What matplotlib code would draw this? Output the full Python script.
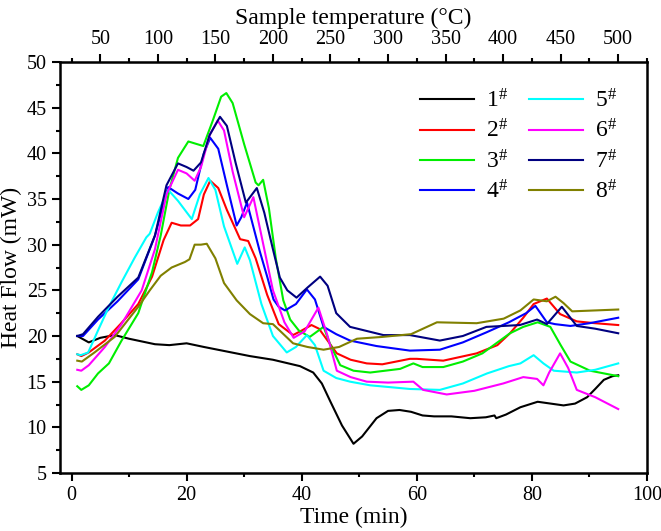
import numpy as np
import matplotlib.pyplot as plt
from matplotlib.ticker import MultipleLocator

plt.rcParams['font.family'] = ['Liberation Serif', 'DejaVu Serif']
plt.rcParams['mathtext.fontset'] = 'custom'
plt.rcParams['mathtext.rm'] = 'Liberation Serif'
plt.rcParams['mathtext.it'] = 'Liberation Serif:italic'

# heat flow curves (time in min, heat flow in mW)
t1 = [1, 3, 5, 7.5, 10, 14.5, 17, 20, 23, 27, 31, 35, 39.7, 42, 43.5, 45, 47, 49, 50.5, 53, 55, 57, 59, 61, 63, 66, 69.3, 72, 73.5, 73.8, 75.5, 78, 81, 85.5, 87.5, 89.6, 91, 92.5, 94, 95]
v1 = [20.0, 19.3, 19.8, 20.1, 19.7, 19.1, 19.0, 19.2, 18.8, 18.3, 17.8, 17.4, 16.7, 16.0, 14.8, 12.8, 10.2, 8.2, 9.0, 11.0, 11.8, 11.9, 11.7, 11.3, 11.2, 11.2, 11.0, 11.1, 11.3, 11.0, 11.4, 12.2, 12.8, 12.4, 12.6, 13.3, 14.2, 15.2, 15.6, 15.7]

t2 = [1, 1.7, 3, 5.8, 8.5, 11.6, 14, 16, 17.4, 19, 20.6, 22, 23, 24.1, 25.5, 27, 29.3, 30.7, 32, 34, 36, 38.5, 40, 41.7, 43, 46.1, 48.5, 51.3, 54, 58.8, 60, 64.6, 70.4, 74, 76.2, 78.5, 80.3, 82.6, 84.9, 87.8, 91, 95]
v2 = [18.0, 17.8, 18.2, 19.5, 21.3, 23.5, 26.5, 30.5, 32.4, 32.1, 32.1, 32.8, 35.5, 37.0, 36.2, 33.8, 30.6, 30.4, 28.5, 24.5, 21.3, 20.1, 20.6, 21.2, 20.8, 18.1, 17.4, 17.0, 16.9, 17.5, 17.5, 17.3, 18.1, 19.0, 20.3, 22.0, 23.5, 24.1, 22.4, 21.6, 21.4, 21.2]

t3 = [1, 1.7, 3, 4.6, 6.5, 8.7, 11.6, 14, 15.5, 17, 18.5, 20.3, 22.9, 24.5, 26, 26.9, 28, 30, 32, 32.5, 33.3, 34.3, 35.5, 36.8, 38, 39.5, 41.4, 43.8, 45, 46.7, 49, 51.9, 57.1, 59.4, 61, 64.6, 68, 71.4, 76.2, 78.5, 81, 83.2, 85, 86.7, 90.1, 95]
v3 = [14.5, 14.1, 14.6, 15.9, 17.0, 19.5, 22.5, 27.0, 31.0, 36.0, 39.5, 41.3, 40.8, 43.5, 46.2, 46.6, 45.5, 41.0, 36.8, 36.5, 37.1, 34.0, 28.5, 23.9, 21.8, 20.6, 19.9, 21.0, 19.0, 16.8, 16.2, 16.0, 16.4, 17.0, 16.6, 16.6, 17.2, 18.1, 20.3, 21.0, 21.5, 21.0, 19.0, 17.2, 16.2, 15.6]

t4 = [1, 2, 4.6, 8, 11.6, 14.5, 16.8, 18.5, 20.3, 21.5, 23, 24.1, 25.5, 27, 28.7, 29.5, 30.5, 32.7, 34, 35.1, 36, 37.1, 39, 40.9, 42.3, 43.8, 46, 48.4, 53, 58.8, 64, 68, 72.1, 76, 79, 80.6, 82.6, 84, 86.7, 90, 95]
v4 = [20.0, 20.0, 21.8, 23.8, 26.2, 31.0, 36.3, 35.6, 35.0, 36.0, 40.0, 41.7, 40.5, 36.5, 32.1, 33.0, 34.6, 29.3, 26.5, 24.0, 23.2, 22.8, 23.5, 25.1, 24.0, 21.0, 20.2, 19.5, 18.9, 18.4, 18.5, 19.3, 20.4, 21.5, 22.5, 23.3, 21.5, 21.3, 21.1, 21.4, 22.0]

t5 = [1, 1.6, 2.9, 4.6, 6.5, 8.7, 11, 13.0, 13.6, 15, 16.8, 18.5, 20.9, 22.3, 23.8, 25, 26.5, 28.8, 30.1, 31, 33, 35, 37.4, 39, 40.9, 42.3, 43.8, 46, 48.4, 51.9, 58.8, 64, 68, 72.2, 76, 78, 80.3, 82, 83.8, 87.8, 91, 95]
v5 = [18.0, 17.9, 18.2, 20.6, 23.2, 25.9, 28.6, 30.8, 31.2, 33.5, 36.0, 34.8, 32.8, 35.5, 37.3, 36.0, 32.0, 27.9, 29.7, 28.3, 23.5, 20.0, 18.2, 18.8, 20.1, 19.0, 16.2, 15.4, 15.0, 14.6, 14.2, 14.1, 14.8, 15.9, 16.7, 17.0, 17.9, 17.0, 16.2, 16.0, 16.3, 17.0]

t6 = [1, 1.7, 3, 5.8, 8.7, 12.2, 14.5, 16.5, 18.5, 20, 21.4, 22.5, 24, 25.4, 26.5, 28, 30.0, 31.6, 33, 35, 37, 38.6, 40.5, 42.9, 44.5, 46.1, 48.5, 51.3, 55, 59.4, 61.1, 65.2, 70, 75, 78.5, 80.9, 82.0, 83, 84.9, 86.3, 87.8, 91, 95]
v6 = [16.3, 16.2, 16.8, 18.8, 21.3, 25.0, 29.5, 35.5, 38.2, 37.8, 37.0, 38.5, 42.0, 43.6, 42.5, 38.0, 33.0, 35.2, 31.0, 25.0, 21.5, 19.8, 20.5, 23.1, 20.0, 16.2, 15.5, 15.0, 14.9, 15.0, 14.1, 13.6, 14.0, 14.8, 15.5, 15.3, 14.6, 16.0, 18.1, 16.5, 14.1, 13.3, 12.0]

t7 = [1, 2, 4.6, 8, 11.6, 14.5, 16.5, 18.5, 20, 21.2, 22.5, 24, 25.8, 27, 28.5, 30.3, 32.2, 33.5, 35, 36.2, 37.5, 39.1, 41, 43.2, 44.5, 46, 48.4, 54.2, 58.8, 64, 68, 72.1, 77.9, 80.9, 82.6, 85.2, 87.8, 91, 95]
v7 = [20.0, 20.2, 22.1, 24.3, 26.4, 31.0, 36.5, 38.9, 38.5, 38.1, 39.0, 42.0, 44.0, 43.0, 39.0, 34.6, 36.2, 33.5, 29.5, 26.4, 25.0, 24.2, 25.3, 26.5, 25.5, 22.5, 21.0, 20.1, 20.1, 19.5, 20.0, 21.0, 21.2, 21.8, 21.3, 23.2, 21.1, 20.8, 20.3]

t8 = [1, 1.8, 4, 7.5, 11.6, 13.6, 15.5, 17.4, 19.7, 20.5, 21.4, 22.5, 23.5, 25, 26.5, 28.7, 31.0, 33.3, 35, 38.5, 41, 43.8, 46.5, 49.6, 54, 59, 63.5, 70.4, 75.1, 78, 80.3, 82.6, 84.1, 85.5, 87, 91, 95]
v8 = [17.3, 17.2, 18.2, 19.9, 23.2, 25.0, 26.6, 27.5, 28.1, 28.4, 30.0, 30.0, 30.1, 28.5, 25.8, 23.9, 22.4, 21.4, 21.3, 19.2, 18.8, 18.5, 18.8, 19.7, 19.9, 20.2, 21.5, 21.4, 21.9, 22.8, 24.0, 23.8, 24.3, 23.6, 22.7, 22.8, 22.9]

names = ['1', '2', '3', '4', '5', '6', '7', '8']
colors = ['#000000', '#FF0000', '#00EE00', '#0000FF', '#00FFFF', '#FF00FF', '#000080', '#808000']
times = [t1, t2, t3, t4, t5, t6, t7, t8]
flows = [v1, v2, v3, v4, v5, v6, v7, v8]

fig = plt.figure(figsize=(6.61, 5.31), dpi=100)
ax = fig.add_axes([60/661, 58/531, 587/661, 411/531])

for t, v, c, n in zip(times, flows, colors, names):
    ax.plot(t, v, color=c, lw=1.5, label=n + r'$^{\#}$')

ax.set_xlim(-2, 100)
ax.set_ylim(5, 50)
ax.xaxis.set_major_locator(MultipleLocator(20))
ax.xaxis.set_minor_locator(MultipleLocator(10))
ax.yaxis.set_major_locator(MultipleLocator(5))
ax.yaxis.set_minor_locator(MultipleLocator(2.5))
ax.tick_params(which='both', direction='out', width=1.5, labelsize=14.5, top=False, right=False)
ax.tick_params(which='major', length=6)
ax.tick_params(which='minor', length=3)
for s in ax.spines.values():
    s.set_linewidth(1.8)
ax.set_xlabel('Time (min)', fontsize=17, labelpad=1)
ax.set_ylabel('Heat Flow (mW)', fontsize=17, labelpad=3)

# top axis: sample temperature, heating at 5 C/min from 25 C
top = ax.secondary_xaxis('top', functions=(lambda x: 25 + 5 * x, lambda T: (T - 25) / 5))
top.xaxis.set_major_locator(MultipleLocator(50))
top.xaxis.set_minor_locator(MultipleLocator(25))
top.tick_params(which='both', direction='out', width=1.5, labelsize=14.5)
top.tick_params(which='major', length=6)
top.tick_params(which='minor', length=3)
top.set_xlabel('Sample temperature (\u00b0C)', fontsize=17, labelpad=4)
top.set_xticks([50, 100, 150, 200, 250, 300, 350, 400, 450, 500])

ax.legend(ncol=2, frameon=False, fontsize=17, loc='upper right', bbox_to_anchor=(0.985, 0.985),
          handlelength=2.3, columnspacing=0.9, labelspacing=0.3, handletextpad=0.5)

fig.savefig('out.png', dpi=100)
